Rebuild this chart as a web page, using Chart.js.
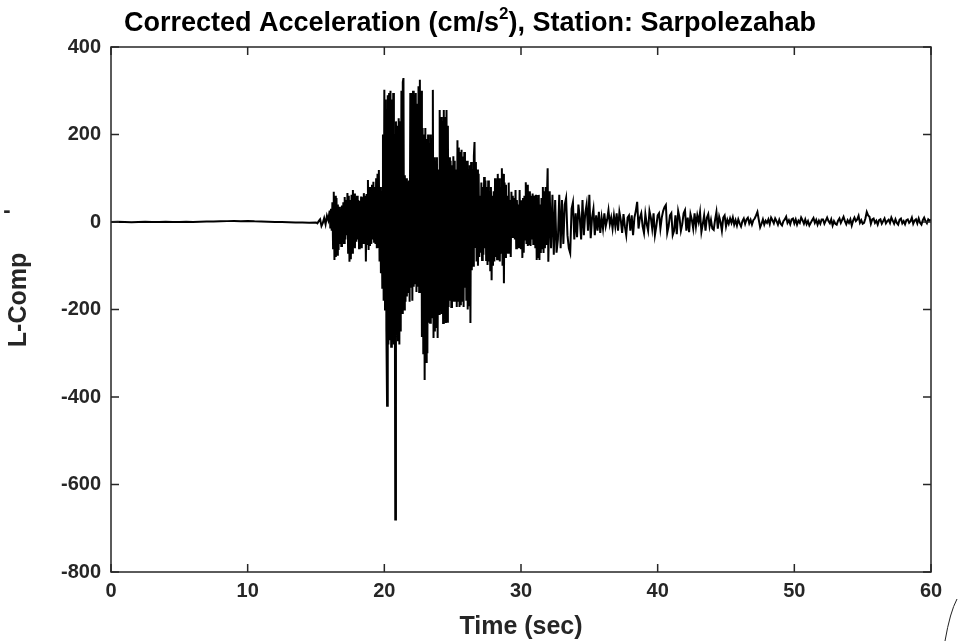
<!DOCTYPE html>
<html>
<head>
<meta charset="utf-8">
<script src="https://cdn.jsdelivr.net/npm/chart.js@4.4.1/dist/chart.umd.min.js"></script>
<style>
html, body { margin: 0; padding: 0; background: #fff; }
</style>
</head>
<body>
<canvas id="canvas" width="958" height="641"></canvas>
<script>
// x/y ticks
var xTicks = [0, 10, 20, 30, 40, 50, 60];
var yTicks = [-800, -600, -400, -200, 0, 200, 400];

// quiet part, 0 - 14.5 s every 0.5 s
var quietStart = 0, quietStep = 0.5;
var quietAcc = [0, 0.5, 0, -0.5, 0, 0.5, 0, 0, 0.5, 0,
                0, 0.5, 0, 0.5, 1, 1, 1.5, 2, 2.5, 2,
                2.5, 1.5, 1, 0.5, 0, 0, -0.5, -1, -1, -1.5];

// onset, 15.0 - 15.9 s every 0.1 s
var onsetStart = 15.0, onsetStep = 0.1;
var onsetAcc = [-1, -3, 2, 6, -9, -2, 9, -5, 14, 4];

// strong motion, 16.0 - 32.0 s every 0.05 s (one row per second)
var strongStart = 16.0, strongStep = 0.05;
var strongAcc = [
  26, -15, 30, -20, 45, -60, 69, -87, 60, -80, 55, -75, 40, -64, 35, -50, 30, -55, 38, -40,
  45, -48, 57, -40, 50, -30, 66, -70, 60, -91, 50, -85, 62, -70, 73, -55, 65, -60, 55, -45,
  60, -40, 50, -60, 48, -55, 58, -60, 55, -48, 66, -34, 60, -90, 64, -50, 96, -64, 80, -55,
  70, -50, 85, -40, 92, -45, 80, -50, 100, -60, 110, -57, 119, -90, 80, -117, 70, -150, 200, -180,
  302, -200, 280, -250, -420, 290, -280, 295, -270, 300, -285, 280, -260, 295, -280, 200, -680, 230, -250, 220,
  -270, 237, -280, 230, -250, 300, -208, 320, 329, -200, 107, -182, 100, -170, 90, -160, 95, -182, 295, -150,
  280, -180, 300, -148, 290, -140, 295, -160, 270, -148, 310, -160, 325, -150, 300, -263, 215, -300, 200, -361,
  215, -320, 190, -300, 200, -230, 180, -230, 200, -220, 190, 302, -265, 148, -250, 140, -240, 148, -265, 120,
  -210, 256, -200, 240, -210, 230, -231, 256, -200, 240, -231, 256, -228, 220, -194, 148, -180, 140, -194, 130,
  -117, 150, -180, 140, -160, 120, -194, 187, -180, 170, -194, 160, -190, 165, -180, 150, -194, 160, -150, 140,
  -180, 140, -200, 120, -190, 130, -231, 137, -110, 120, -100, 150, 183, -57, 137, -90, 120, -100, 110, -80,
  60, -70, 90, -87, 80, -75, 103, -60, 95, -87, 80, -98, 95, -90, 70, -110, 80, -133, 60, -100,
  70, -90, 100, -80, 95, -85, 110, -60, 100, -90, 80, -70, 123, -100, 110, -140, 90, -80, 85, -70,
  60, -70, 90, -60, 50, -80, 69, -34, 60, -30, 55, -40, 73, -60, 50, -55, 40, -60, 73, -50,
  -60, 50, -82, 55, -70, 60, -40, 91, -50, 85, -55, 70, -50, 70, -55, 60, -40, 65, -50, 60,
  50, -60, 62, -87, 55, -80, 62, -87, 40, -71, 55, -60, 80, -71, 70, -60, 80, -50, 60, 123,
  -91
];

// coda, 32.1 - 45.0 s every 0.1 s
var codaStart = 32.1, codaStep = 0.1;
var codaAcc = [
  70, -60, 62, -75, 50, -70, -40, 62, -60, 50,
  -50, 40, 55, -30, -60, -71, 30, 45, -40, 20,
  -35, 40, 10, -40, 50, -30, 20, 40, -20, 62,
  -37, 10, 30, -30, 15, -20, 23, -25, 10, -15,
  20, -10, 5, 27, -5, 10, -15, 15, -10, 20,
  -20, 23, 5, -25, 18, -10, -30, 10, 15, -20,
  15, -30, 10, 25, 46, -15, 10, 20, -10, -25,
  18, -5, -20, 25, 10, -15, 20, -30, -10, 15,
  20, -15, 10, 25, 34, 39, -25, -10, 15, 20,
  -30, -20, 15, -28, 25, 10, -20, -5, 20, 27,
  -20, 10, -23, 18, 5, -15, 20, -10, 15, 0,
  22, -23, -5, 15, -20, 10, 18, -10, 5, -15,
  -18, 5, 23, -15, 12, 0, -20, 10, 15, -10
];

// tail, 45.1 - 60.0 s every 0.1 s
var tailStart = 45.1, tailStep = 0.1;
var tailAcc = [
  5, -4, 8, -2, 10, -6, 4, -8, 6, -3,
  -10, 2, 8, -4, 6, 10, -3, 5, -6, 4,
  8, 15, 23, 5, -12, -4, 6, -6, 3, -2,
  6, -5, 10, 4, -3, 8, 2, -6, 5, -4,
  -8, 2, 6, 12, -2, 4, -5, 6, 8, -3,
  6, -6, 3, -2, 10, 4, -4, 6, -5, 2,
  -8, -2, 4, 9, -2, 5, -6, 3, -4, 6,
  6, -4, 3, 10, 2, -3, 6, -8, 2, -4,
  -6, 3, 8, -2, 5, 12, 2, -5, 4, -2,
  6, -8, 3, 10, 2, 6, 14, -2, 4, -4,
  -2, 8, 23, 15, 12, -4, 6, 8, -2, 3,
  -6, 4, 6, -4, 2, 8, -3, 2, 5, -2,
  10, 3, -4, 6, -2, -6, 5, 8, -3, 2,
  -5, 4, 6, -2, 2, 10, -4, 3, 6, -3,
  8, -2, -6, 4, 10, 2, -3, 6, 3, 6
];

function segment(start, step, values) {
  return values.map(function (v, i) {
    return { x: Math.round((start + i * step) * 100) / 100, y: v };
  });
}

var points = segment(quietStart, quietStep, quietAcc)
  .concat(segment(onsetStart, onsetStep, onsetAcc))
  .concat(segment(strongStart, strongStep, strongAcc))
  .concat(segment(codaStart, codaStep, codaAcc))
  .concat(segment(tailStart, tailStep, tailAcc));

var FONT = '"Liberation Sans", Arial, Helvetica, sans-serif';
var AXIS = '#262626';

// box, inward ticks, titles
var frame = {
  id: 'frame',
  afterDraw: function (chart) {
    var ctx = chart.ctx, a = chart.chartArea;
    var xs = chart.scales.x, ys = chart.scales.y;
    ctx.save();
    ctx.strokeStyle = AXIS;
    ctx.lineWidth = 1.5;
    ctx.strokeRect(a.left, a.top, a.right - a.left, a.bottom - a.top);
    ctx.beginPath();
    xTicks.forEach(function (t) {
      var px = xs.getPixelForValue(t);
      ctx.moveTo(px, a.bottom); ctx.lineTo(px, a.bottom - 8);
      ctx.moveTo(px, a.top); ctx.lineTo(px, a.top + 8);
    });
    yTicks.forEach(function (t) {
      var py = ys.getPixelForValue(t);
      ctx.moveTo(a.left, py); ctx.lineTo(a.left + 8, py);
      ctx.moveTo(a.right, py); ctx.lineTo(a.right - 8, py);
    });
    ctx.stroke();

    // title with superscript
    ctx.fillStyle = '#000';
    ctx.textBaseline = 'alphabetic';
    var p1 = 'Corrected Acceleration (cm/s', sup = '2', p2 = '), Station: Sarpolezahab';
    ctx.font = 'bold 27px ' + FONT;
    var w1 = ctx.measureText(p1).width, w2 = ctx.measureText(p2).width;
    ctx.font = 'bold 17px ' + FONT;
    var ws = ctx.measureText(sup).width;
    var x0 = 470 - (w1 + ws + w2) / 2, base = 31;
    ctx.font = 'bold 27px ' + FONT;
    ctx.textAlign = 'left';
    ctx.fillText(p1, x0, base);
    ctx.font = 'bold 17px ' + FONT;
    ctx.fillText(sup, x0 + w1, base - 12);
    ctx.font = 'bold 27px ' + FONT;
    ctx.fillText(p2, x0 + w1 + ws, base);

    // axis titles
    ctx.fillStyle = AXIS;
    ctx.textAlign = 'center';
    ctx.textBaseline = 'middle';
    ctx.font = 'bold 25px ' + FONT;
    ctx.fillText('Time (sec)', 521, 627);
    ctx.save();
    ctx.translate(19, 300);
    ctx.rotate(-Math.PI / 2);
    ctx.fillText('L-Comp', 0, 0);
    ctx.restore();
    ctx.font = 'bold 22px ' + FONT;
    ctx.fillText('-', 7, 211);

    // stray stroke at bottom right
    ctx.strokeStyle = '#222';
    ctx.lineWidth = 1;
    ctx.beginPath();
    ctx.moveTo(957, 599);
    ctx.quadraticCurveTo(950, 612, 945, 641);
    ctx.stroke();
    ctx.restore();
  }
};

var ctx = document.getElementById('canvas').getContext('2d');
var myChart = new Chart(ctx, {
  type: 'line',
  data: {
    datasets: [{
      label: 'L-Comp',
      data: points,
      borderColor: '#000',
      borderWidth: 2,
      pointRadius: 0,
      tension: 0,
      fill: false
    }]
  },
  options: {
    responsive: false,
    animation: false,
    layout: { padding: { top: 47, right: 27, left: 0, bottom: 0 } },
    plugins: {
      legend: { display: false },
      title: { display: false },
      tooltip: { enabled: false }
    },
    scales: {
      x: {
        type: 'linear',
        min: 0, max: 60,
        afterFit: function (s) { s.height = 69; },
        afterBuildTicks: function (s) { s.ticks = xTicks.map(function (v) { return { value: v }; }); },
        grid: { display: false, drawTicks: false },
        border: { display: false },
        ticks: { color: AXIS, padding: 7, maxRotation: 0, font: { family: FONT, size: 20, weight: 'bold' } }
      },
      y: {
        type: 'linear',
        min: -800, max: 400,
        afterFit: function (s) { s.width = 111; },
        afterBuildTicks: function (s) { s.ticks = yTicks.map(function (v) { return { value: v }; }); },
        grid: { display: false, drawTicks: false },
        border: { display: false },
        ticks: { color: AXIS, padding: 10, font: { family: FONT, size: 20, weight: 'bold' } }
      }
    }
  },
  plugins: [frame]
});
</script>
</body>
</html>
